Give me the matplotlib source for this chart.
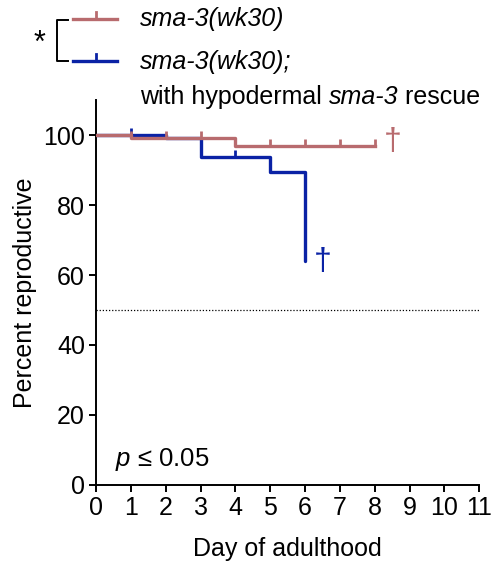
import numpy as np
import matplotlib
matplotlib.use("Agg")
import matplotlib.pyplot as plt
from matplotlib.lines import Line2D

plt.rcParams['font.family'] = ['Liberation Sans', 'DejaVu Sans']
plt.rcParams['mathtext.fontset'] = 'custom'
plt.rcParams['mathtext.rm'] = 'Liberation Sans'
plt.rcParams['mathtext.it'] = 'Liberation Sans:italic'

# Kaplan-Meier style step data (day, percent reproductive)
mut_days = [0, 1, 4, 8]
mut_pct = [100, 99.2, 97, 97]
mut_censor = [1, 2, 3, 5, 6, 7, 8]

res_days = [0, 1, 2, 3, 5, 6]
res_pct = [100, 100, 99.2, 93.8, 89.3, 63.9]
res_censor = [1, 4]

red = '#B86B6E'
blue = '#0A22A5'


def step_value(days, pct, t):
    idx = np.searchsorted(days, t, side='right') - 1
    return np.array(pct)[idx]


fig = plt.figure(figsize=(4.91, 5.65), dpi=100)
ax = fig.add_axes([0.1955, 0.1416, 0.7805, 0.6814])

tick_up = [(0, 0), (0, 1)]
ax.step(mut_days, mut_pct, where='post', color=red, lw=2.4, zorder=3)
ax.plot(mut_censor, step_value(mut_days, mut_pct, mut_censor), ls='none',
        marker=tick_up, ms=10, mew=2.0, mec=red, zorder=3)
ax.step(res_days, res_pct, where='post', color=blue, lw=2.4, zorder=2,
        solid_capstyle='round')
ax.plot(res_censor, step_value(res_days, res_pct, res_censor), ls='none',
        marker=tick_up, ms=10, mew=2.0, mec=blue, zorder=2)

ax.axhline(50, color='black', lw=0.9, ls=(0, (1, 1.5)), zorder=1)

ax.text(8.51, 98.1, '\u2020', color=red, fontsize=23, ha='center', va='center')
ax.text(6.52, 63.8, '\u2020', color=blue, fontsize=23, ha='center', va='center')
ax.text(0.54, 7.4, '$p$ \u2264 0.05', fontsize=18.5, ha='left', va='center')

ax.set_xlim(0, 11)
ax.set_ylim(0, 110)
ax.set_xticks(range(0, 12))
ax.set_yticks(range(0, 101, 20))
ax.spines['top'].set_visible(False)
ax.spines['right'].set_visible(False)
for s in ['left', 'bottom']:
    ax.spines[s].set_linewidth(1.4)
ax.tick_params(axis='both', labelsize=18, width=1.4, length=5, pad=3)
ax.set_xlabel('Day of adulthood', fontsize=18, labelpad=12)
ax.set_ylabel('Percent reproductive', fontsize=18, labelpad=4)

# legend drawn in figure pixel coordinates
W, H = 491, 565


def fx(x):
    return x / W


def fy(y):
    return 1 - y / H


for y, c in [(19, red), (61, blue)]:
    fig.add_artist(Line2D([fx(73), fx(117)], [fy(y), fy(y)], color=c, lw=2.4))
    fig.add_artist(Line2D([fx(96), fx(96)], [fy(y), fy(y - 7)], color=c, lw=2.0))

fig.add_artist(Line2D([fx(68), fx(57), fx(57), fx(68)],
                      [fy(20), fy(20), fy(61), fy(61)], color='black', lw=1.4))
fig.text(fx(40), fy(44), '*', fontsize=22, ha='center', va='center')

fig.text(fx(140), fy(19), 'sma-3(wk30)', fontsize=18, style='italic', va='center')
fig.text(fx(140), fy(62), 'sma-3(wk30);', fontsize=18, style='italic', va='center')

# third legend line: mixed upright / italic pieces placed one after another
renderer = fig.canvas.get_renderer()
x = fx(140)
for piece, st in [('with hypodermal ', 'normal'), ('sma-3', 'italic'), (' rescue', 'normal')]:
    t = fig.text(x, fy(97), piece, fontsize=18, style=st, va='center')
    bb = t.get_window_extent(renderer)
    x = bb.x1 / fig.bbox.width

fig.savefig('out.png', dpi=100)
